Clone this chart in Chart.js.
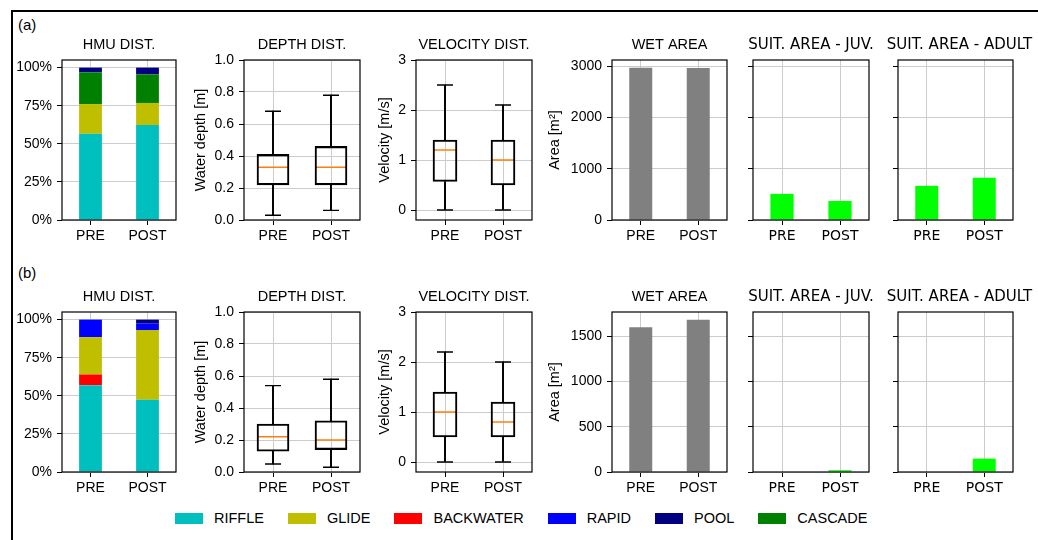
<!DOCTYPE html>
<html>
<head>
<meta charset="utf-8">
<script src="https://cdn.jsdelivr.net/npm/chart.js@4.4.1/dist/chart.umd.min.js"></script>
<style>
  body { margin: 0; background: #fff; width: 1038px; height: 540px; overflow: hidden; position: relative;
         font-family: "Liberation Sans", Arial, sans-serif; color: #000; }
  canvas { position: absolute; }
  .frame { position: absolute; left: 11px; top: 10px; width: 1100px; height: 600px;
           border-left: 2px solid #000; border-top: 2px solid #000; }
  .tag { position: absolute; font-size: 15px; }
  #legend { position: absolute; left: 175px; top: 510px; display: flex; align-items: center; font-size: 14.5px; }
  #legend .sw { width: 28px; height: 11px; margin-right: 11px; }
  #legend .lb { margin-right: 24px; }
</style>
</head>
<body>
<div class="frame"></div>
<div class="tag" style="left:18px; top:16px">(a)</div>
<div class="tag" style="left:18px; top:264px">(b)</div>
<div id="legend"></div>

<script>
// ---- data ----
const categories = ["PRE", "POST"];
const hmuNames = ["RIFFLE", "GLIDE", "BACKWATER", "RAPID", "POOL", "CASCADE"];
const hmuColors = ["#00bfbf", "#bfbf00", "#ff0000", "#0000ff", "#000080", "#008000"];

// HMU shares (fraction), PRE / POST
const riffleA = [0.566, 0.623];
const glideA = [0.195, 0.145];
const backwaterA = [0, 0];
const rapidA = [0, 0];
const poolA = [0.031, 0.044];
const cascadeA = [0.208, 0.188];

const riffleB = [0.570, 0.474];
const glideB = [0.245, 0.458];
const backwaterB = [0.070, 0];
const rapidB = [0.115, 0.044];
const poolB = [0, 0.024];
const cascadeB = [0, 0];

// box stats per category: [whisker low, Q1, median, Q3, whisker high]
const depthA = [[0.03, 0.22, 0.33, 0.41, 0.68], [0.06, 0.22, 0.33, 0.46, 0.78]];
const depthB = [[0.05, 0.13, 0.22, 0.30, 0.54], [0.03, 0.14, 0.20, 0.32, 0.58]];
const velocityA = [[0, 0.57, 1.2, 1.4, 2.5], [0, 0.5, 1.0, 1.4, 2.1]];
const velocityB = [[0, 0.5, 1.0, 1.4, 2.2], [0, 0.5, 0.8, 1.2, 2.0]];

// areas [m2]
const wetA = [2975, 2970];
const juvA = [510, 372];
const adultA = [667, 824];
const wetB = [1600, 1685];
const juvB = [0, 20];
const adultB = [0, 148];

// tick values
const hmuTicks = [0, 0.25, 0.5, 0.75, 1.0];
const depthTicks = [0, 0.2, 0.4, 0.6, 0.8, 1.0];
const velocityTicks = [0, 1, 2, 3];
const areaTicksA = [0, 1000, 2000, 3000];
const areaTicksB = [0, 500, 1000, 1500];

// ---- layout ----
Chart.defaults.color = "#000";
Chart.defaults.animation = false;

const GRID = "#cccccc";
const TH = 30, XH = 28, RP = 40, LP = 40, H = 160;
const SANS = "Liberation Sans";
const DEJA = "DejaVu Sans";

// draws the axes box and the panel title
const framePlugin = {
  id: "frame",
  afterDatasetsDraw(chart, args, opts) {
    const { ctx, chartArea: a } = chart;
    ctx.save();
    ctx.strokeStyle = "#000";
    ctx.lineWidth = 1.2;
    ctx.strokeRect(a.left, a.top, a.right - a.left, a.bottom - a.top);
    ctx.font = opts.font;
    ctx.fillStyle = "#000";
    ctx.textAlign = "center";
    ctx.textBaseline = "middle";
    ctx.fillText(opts.title, (a.left + a.right) / 2 + (opts.dx || 0), a.top - 15);
    ctx.restore();
  }
};

function makePanel(g, p) {
  const c = document.createElement("canvas");
  c.width = LP + g.yw + g.w + RP;
  c.height = TH + H + XH;
  c.style.left = (g.left - g.yw - LP) + "px";
  c.style.top = (g.top - TH) + "px";
  document.body.appendChild(c);

  const tickFont = { family: p.family, size: 14 };
  new Chart(c, {
    type: "bar",
    data: { labels: categories, datasets: p.datasets },
    options: {
      responsive: false,
      layout: { padding: { top: TH, right: RP, left: LP, bottom: 0 } },
      plugins: {
        legend: { display: false },
        tooltip: { enabled: false },
        frame: { title: p.title, font: p.titleFont, dx: p.dx }
      },
      scales: {
        x: {
          type: "category",
          offset: true,
          stacked: !!p.stacked,
          grid: { color: GRID, offset: false, tickColor: "#000", tickLength: 5 },
          border: { display: false },
          ticks: { font: tickFont, padding: 3, maxRotation: 0 },
          afterFit: s => { s.height = XH; }
        },
        y: {
          min: p.min, max: p.max,
          stacked: !!p.stacked,
          afterBuildTicks: s => { s.ticks = p.ticks.map(v => ({ value: v })); },
          afterFit: s => { s.width = g.yw; },
          grid: { color: GRID, tickColor: "#000", tickLength: 5 },
          border: { display: false },
          ticks: { font: tickFont, padding: 5, callback: p.fmt },
          title: p.ytitle ? { display: true, text: p.ytitle, font: { family: SANS, size: 14.5 }, padding: { top: 0, bottom: 0 } }
                          : { display: false }
        }
      }
    },
    plugins: [framePlugin]
  });
}

function hmuDatasets(series) {
  // stacking order bottom -> top
  const order = ["RIFFLE", "BACKWATER", "GLIDE", "RAPID", "CASCADE", "POOL"];
  return order.map(n => {
    const i = hmuNames.indexOf(n);
    return { label: n, data: series[i], backgroundColor: hmuColors[i],
             categoryPercentage: 1, barPercentage: 0.4, borderWidth: 0 };
  });
}

function boxDatasets(stats, bw) {
  const pt = (vals, r, col) => ({ type: "line", data: vals, showLine: false, pointStyle: "line",
    pointRadius: r, pointHoverRadius: r, borderColor: col, pointBorderWidth: 1.4 });
  return [
    { data: stats.map(b => [b[0], b[1]]), backgroundColor: "#000", barThickness: 1.3, grouped: false },
    { data: stats.map(b => [b[3], b[4]]), backgroundColor: "#000", barThickness: 1.3, grouped: false },
    { data: stats.map(b => [b[1], b[3]]), backgroundColor: "rgba(0,0,0,0)", borderColor: "#000",
      borderWidth: 1.4, borderSkipped: false, barThickness: bw, grouped: false },
    pt(stats.map(b => b[0]), 8, "#000"),
    pt(stats.map(b => b[4]), 8, "#000"),
    pt(stats.map(b => b[2]), bw / 2, "#ff7f0e")
  ];
}

function areaDatasets(vals, col) {
  return [{ data: vals, backgroundColor: col, categoryPercentage: 1, barPercentage: 0.4, borderWidth: 0 }];
}

const pct = v => Math.round(v * 100) + "%";
const one = v => v.toFixed(1);
const int = v => String(v);
const none = () => "";

const cols = {
  hmu:   { left: 62,  w: 114, yw: 52 },
  depth: { left: 244, w: 116, yw: 52 },
  vel:   { left: 416, w: 116, yw: 40 },
  wet:   { left: 612, w: 115, yw: 66 },
  juv:   { left: 753, w: 116, yw: 12 },
  adult: { left: 898, w: 115, yw: 12 }
};
const rows = [
  { top: 60, hmu: [riffleA, glideA, backwaterA, rapidA, poolA, cascadeA], depth: depthA, vel: velocityA,
    wet: wetA, juv: juvA, adult: adultA, areaMax: 3125, areaTicks: areaTicksA },
  { top: 312, hmu: [riffleB, glideB, backwaterB, rapidB, poolB, cascadeB], depth: depthB, vel: velocityB,
    wet: wetB, juv: juvB, adult: adultB, areaMax: 1770, areaTicks: areaTicksB }
];

const tFontA = '14.5px "Liberation Sans"';
const tFontB = '15px "DejaVu Sans"';

rows.forEach(r => {
  const g = k => Object.assign({ top: r.top }, cols[k]);
  makePanel(g("hmu"), { title: "HMU DIST.", titleFont: tFontA, family: SANS, stacked: true,
    datasets: hmuDatasets(r.hmu), min: 0, max: 1.05, ticks: hmuTicks, fmt: pct });
  makePanel(g("depth"), { title: "DEPTH DIST.", titleFont: tFontA, family: SANS, ytitle: "Water depth [m]",
    datasets: boxDatasets(r.depth, 32), min: 0, max: 1.0, ticks: depthTicks, fmt: one });
  makePanel(g("vel"), { title: "VELOCITY DIST.", titleFont: tFontA, family: SANS, ytitle: "Velocity [m/s]",
    datasets: boxDatasets(r.vel, 24), min: -0.2, max: 3.0, ticks: velocityTicks, fmt: int });
  makePanel(g("wet"), { title: "WET AREA", titleFont: tFontA, family: SANS, ytitle: "Area [m²]",
    datasets: areaDatasets(r.wet, "#808080"), min: 0, max: r.areaMax, ticks: r.areaTicks, fmt: int });
  makePanel(g("juv"), { title: "SUIT. AREA - JUV.", titleFont: tFontB, family: DEJA,
    datasets: areaDatasets(r.juv, "#00ff00"), min: 0, max: r.areaMax, ticks: r.areaTicks, fmt: none });
  makePanel(g("adult"), { title: "SUIT. AREA - ADULT", titleFont: tFontB, family: DEJA, dx: 4,
    datasets: areaDatasets(r.adult, "#00ff00"), min: 0, max: r.areaMax, ticks: r.areaTicks, fmt: none });
});

// legend
const leg = document.getElementById("legend");
hmuNames.forEach((n, i) => {
  const sw = document.createElement("span");
  sw.className = "sw";
  sw.style.background = hmuColors[i];
  const lb = document.createElement("span");
  lb.className = "lb";
  lb.textContent = n;
  leg.appendChild(sw);
  leg.appendChild(lb);
});
</script>
</body>
</html>
